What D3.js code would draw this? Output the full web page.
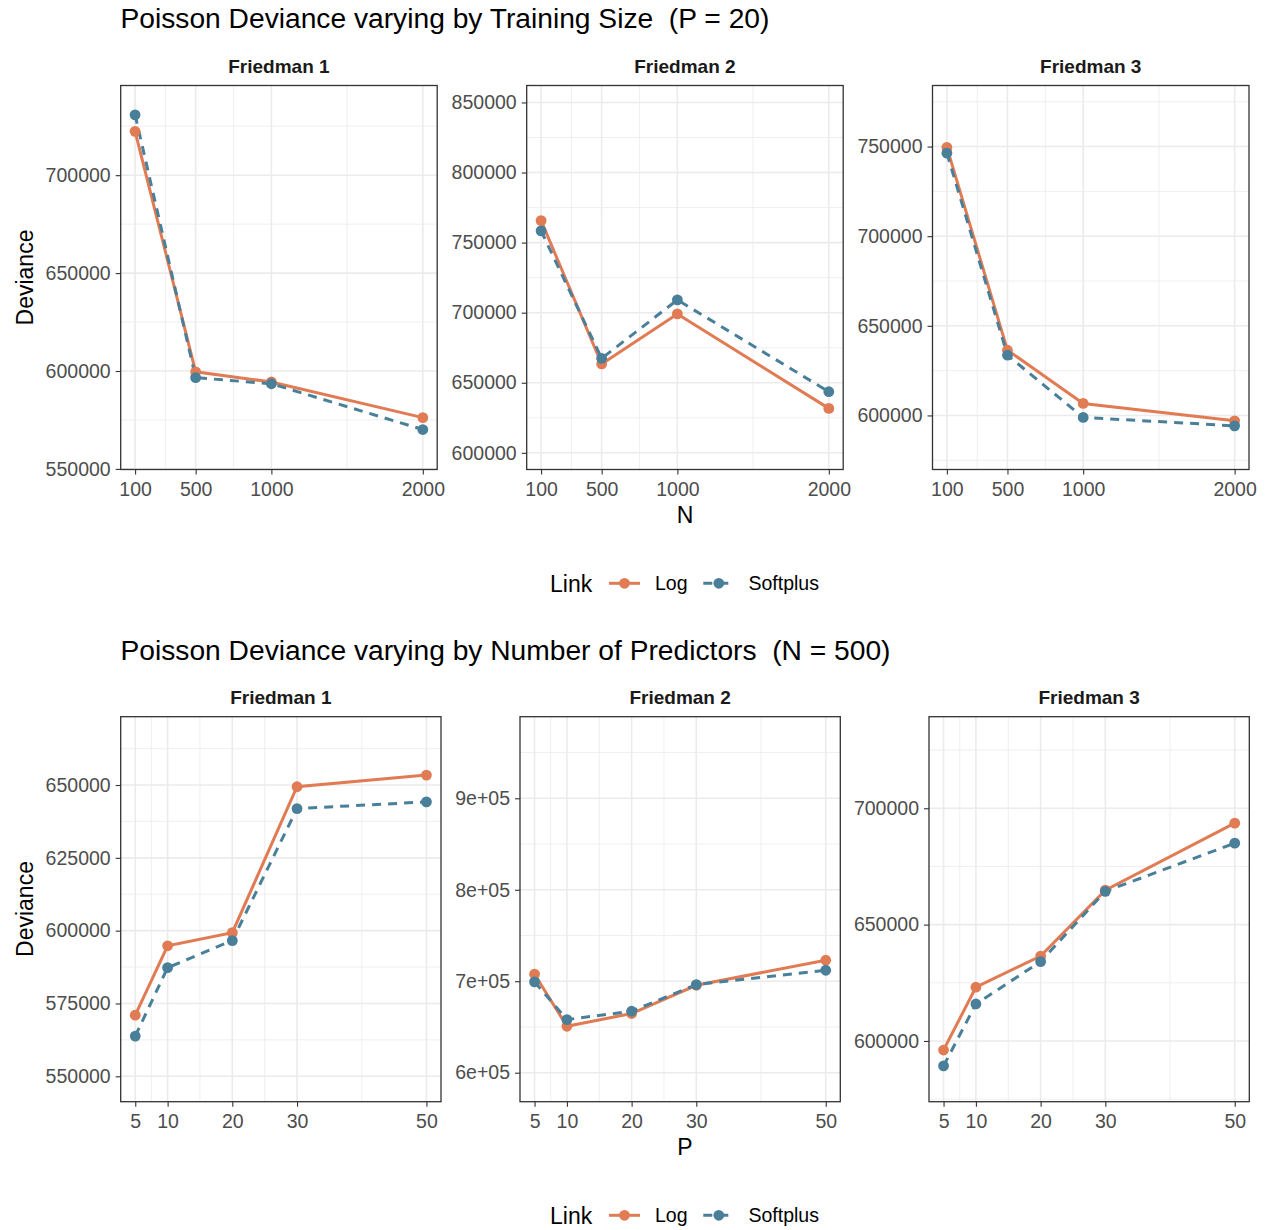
<!DOCTYPE html>
<html>
<head>
<meta charset="utf-8">
<script src="https://cdn.jsdelivr.net/npm/d3@7"></script>
<style>
  html, body { margin: 0; padding: 0; background: #fff; }
  svg { display: block; font-family: "Liberation Sans", Arial, Helvetica, sans-serif; }
  .ptitle { white-space: pre; }
</style>
</head>
<body>
<svg id="chart" width="1267" height="1230"></svg>
<script>
// ---------------- DATA ----------------
const panelNames = ["Friedman 1", "Friedman 2", "Friedman 3"];
const seriesNames = ["Log", "Softplus"];

// Top row: varying training size N (P = 20)
const sizesN = [100, 500, 1000, 2000];
const n_log_f1  = [722400, 599600, 594400, 576200];
const n_soft_f1 = [730800, 596600, 593500, 570100];
const n_log_f2  = [765700, 663400, 699100, 631700];
const n_soft_f2 = [758400, 667400, 709100, 643600];
const n_log_f3  = [749500, 636400, 606700, 597000];
const n_soft_f3 = [746300, 633600, 598900, 594200];

// Bottom row: varying number of predictors P (N = 500)
const predictorsP = [5, 10, 20, 30, 50];
const p_log_f1  = [571000, 594800, 599300, 649400, 653400];
const p_soft_f1 = [563800, 587300, 596600, 641900, 644200];
const p_log_f2  = [707700, 650800, 664700, 695600, 723000];
const p_soft_f2 = [699300, 658100, 667200, 696300, 712000];
const p_log_f3  = [596100, 623100, 636500, 664800, 693600];
const p_soft_f3 = [589300, 615900, 634100, 664300, 685000];

// Tick values / labels
const xTicksN = [100, 500, 1000, 2000];
const xTicksP = [5, 10, 20, 30, 50];
const yTicksN1 = [550000, 600000, 650000, 700000];
const yTicksN2 = [600000, 650000, 700000, 750000, 800000, 850000];
const yTicksN3 = [600000, 650000, 700000, 750000];
const yTicksP1 = [550000, 575000, 600000, 625000, 650000];
const yTicksP2 = [600000, 700000, 800000, 900000];
const yTicksP3 = [600000, 650000, 700000];
const yLabelsP2 = ["6e+05", "7e+05", "8e+05", "9e+05"];

// Y ranges (as shown)
const yDomN1 = [549700, 745800];
const yDomN2 = [588100, 862100];
const yDomN3 = [569850, 784050];
const yDomP1 = [541280, 673450];
const yDomP2 = [568300, 989200];
const yDomP3 = [573900, 739350];

// ---------------- STYLE ----------------
const colors = { "Log": "#E07B54", "Softplus": "#4A7F99" };
const dashes = { "Log": null, "Softplus": "9,7" };
const tickFont = 19.5, stripFont = 19, titleFont = 28.2, axisTitleFont = 23;
const tickColor = "#4D4D4D";

const svg = d3.select("#chart");

function expandDomain(ext) {
  const r = ext[1] - ext[0];
  return [ext[0] - 0.05 * r, ext[1] + 0.05 * r];
}

function minorBreaks(majors, dom) {
  const out = [];
  const ext = [majors[0] - (majors[1] - majors[0]) / 2];
  for (let i = 0; i < majors.length - 1; i++) ext.push((majors[i] + majors[i + 1]) / 2);
  ext.push(majors[majors.length - 1] + (majors[majors.length - 1] - majors[majors.length - 2]) / 2);
  ext.forEach(v => { if (v >= Math.min(...dom) && v <= Math.max(...dom)) out.push(v); });
  return out;
}

function drawPanel(cfg) {
  const { left, top, width, height, xVals, xTicks, yTicks, yLabels, yDom, logVals, softVals, name } = cfg;
  const g = svg.append("g");
  const xDom = expandDomain(d3.extent(xVals));
  const x = d3.scaleLinear().domain(xDom).range([left, left + width]);
  const y = d3.scaleLinear().domain(yDom).range([top + height, top]);

  // minor grid
  minorBreaks(xTicks, xDom).forEach(v => {
    g.append("line").attr("x1", x(v)).attr("x2", x(v)).attr("y1", top).attr("y2", top + height)
      .attr("stroke", "#EBEBEB").attr("stroke-width", 0.8);
  });
  minorBreaks(yTicks, yDom).forEach(v => {
    g.append("line").attr("x1", left).attr("x2", left + width).attr("y1", y(v)).attr("y2", y(v))
      .attr("stroke", "#EBEBEB").attr("stroke-width", 0.8);
  });
  // major grid
  xTicks.forEach(v => {
    g.append("line").attr("x1", x(v)).attr("x2", x(v)).attr("y1", top).attr("y2", top + height)
      .attr("stroke", "#EBEBEB").attr("stroke-width", 1.6);
  });
  yTicks.forEach(v => {
    g.append("line").attr("x1", left).attr("x2", left + width).attr("y1", y(v)).attr("y2", y(v))
      .attr("stroke", "#EBEBEB").attr("stroke-width", 1.6);
  });

  // axes
  const xAxis = d3.axisBottom(x).tickValues(xTicks).tickSize(5).tickPadding(5).tickFormat(d3.format("d"));
  const gx = g.append("g").attr("transform", `translate(0,${top + height})`).call(xAxis);
  const yAxis = d3.axisLeft(y).tickValues(yTicks).tickSize(5).tickPadding(5)
    .tickFormat((d, i) => yLabels ? yLabels[i] : d3.format("d")(d));
  const gy = g.append("g").attr("transform", `translate(${left},0)`).call(yAxis);
  [gx, gy].forEach(a => {
    a.select(".domain").remove();
    a.selectAll(".tick line").attr("stroke", "#333333").attr("stroke-width", 1.1);
    a.selectAll(".tick text").attr("fill", tickColor).style("font-size", tickFont + "px")
      .style("font-family", '"Liberation Sans", Arial, sans-serif');
  });
  gx.selectAll(".tick text").attr("dy", "0.85em");

  // lines
  const line = d3.line().x((d, i) => x(xVals[i])).y(d => y(d));
  const sets = [["Log", logVals], ["Softplus", softVals]];
  sets.forEach(([s, vals]) => {
    g.append("path").datum(vals).attr("d", line).attr("fill", "none")
      .attr("stroke", colors[s]).attr("stroke-width", 3)
      .attr("stroke-dasharray", dashes[s]);
  });
  sets.forEach(([s, vals]) => {
    g.selectAll(null).data(vals).enter().append("circle")
      .attr("cx", (d, i) => x(xVals[i])).attr("cy", d => y(d)).attr("r", 5.4)
      .attr("fill", colors[s]);
  });

  // border
  g.append("rect").attr("x", left).attr("y", top).attr("width", width).attr("height", height)
    .attr("fill", "none").attr("stroke", "#333333").attr("stroke-width", 1.3);

  // strip
  g.append("text").attr("x", left + width / 2).attr("y", top - 13).attr("text-anchor", "middle")
    .style("font-size", stripFont + "px").style("font-weight", "bold").attr("fill", "#1A1A1A")
    .text(name);
}

function drawLegend(yc) {
  const g = svg.append("g");
  g.append("text").attr("x", 550).attr("y", yc + 8.5).style("font-size", "23px").attr("fill", "#000").text("Link");
  const keys = [{ s: "Log", x0: 609, tx: 655 }, { s: "Softplus", x0: 703.3, tx: 748.5 }];
  keys.forEach(k => {
    g.append("line").attr("x1", k.x0).attr("x2", k.x0 + 31).attr("y1", yc).attr("y2", yc)
      .attr("stroke", colors[k.s]).attr("stroke-width", 3).attr("stroke-dasharray", dashes[k.s]);
    g.append("circle").attr("cx", k.x0 + 15.5).attr("cy", yc).attr("r", 5.4).attr("fill", colors[k.s]);
    g.append("text").attr("x", k.tx).attr("y", yc + 7).style("font-size", "19.5px").attr("fill", "#000").text(k.s);
  });
}

// ---------------- TOP ROW ----------------
svg.append("text").attr("class", "ptitle").attr("xml:space", "preserve")
  .attr("x", 120.5).attr("y", 28).style("font-size", titleFont + "px").attr("fill", "#000")
  .text("Poisson Deviance varying by Training Size  (P = 20)");

const topCfg = { top: 85.5, height: 384, width: 316.5, xVals: sizesN, xTicks: xTicksN };
drawPanel({ ...topCfg, left: 120.7, yTicks: yTicksN1, yDom: yDomN1, logVals: n_log_f1, softVals: n_soft_f1, name: panelNames[0] });
drawPanel({ ...topCfg, left: 526.7, yTicks: yTicksN2, yDom: yDomN2, logVals: n_log_f2, softVals: n_soft_f2, name: panelNames[1] });
drawPanel({ ...topCfg, left: 932.5, yTicks: yTicksN3, yDom: yDomN3, logVals: n_log_f3, softVals: n_soft_f3, name: panelNames[2] });

svg.append("text").attr("transform", "translate(33,277.5) rotate(-90)").attr("text-anchor", "middle")
  .style("font-size", axisTitleFont + "px").attr("fill", "#000").text("Deviance");
svg.append("text").attr("x", 685).attr("y", 523).attr("text-anchor", "middle")
  .style("font-size", axisTitleFont + "px").attr("fill", "#000").text("N");
drawLegend(583.3);

// ---------------- BOTTOM ROW ----------------
svg.append("text").attr("class", "ptitle").attr("xml:space", "preserve")
  .attr("x", 120.5).attr("y", 660).style("font-size", titleFont + "px").attr("fill", "#000")
  .text("Poisson Deviance varying by Number of Predictors  (N = 500)");

const botCfg = { top: 716.7, height: 385, width: 320.3, xVals: predictorsP, xTicks: xTicksP };
drawPanel({ ...botCfg, left: 120.7, yTicks: yTicksP1, yDom: yDomP1, logVals: p_log_f1, softVals: p_soft_f1, name: panelNames[0] });
drawPanel({ ...botCfg, left: 520, yTicks: yTicksP2, yLabels: yLabelsP2, yDom: yDomP2, logVals: p_log_f2, softVals: p_soft_f2, name: panelNames[1] });
drawPanel({ ...botCfg, left: 929, yTicks: yTicksP3, yDom: yDomP3, logVals: p_log_f3, softVals: p_soft_f3, name: panelNames[2] });

svg.append("text").attr("transform", "translate(33,909) rotate(-90)").attr("text-anchor", "middle")
  .style("font-size", axisTitleFont + "px").attr("fill", "#000").text("Deviance");
svg.append("text").attr("x", 685).attr("y", 1155).attr("text-anchor", "middle")
  .style("font-size", axisTitleFont + "px").attr("fill", "#000").text("P");
drawLegend(1215.3);
</script>
</body>
</html>
